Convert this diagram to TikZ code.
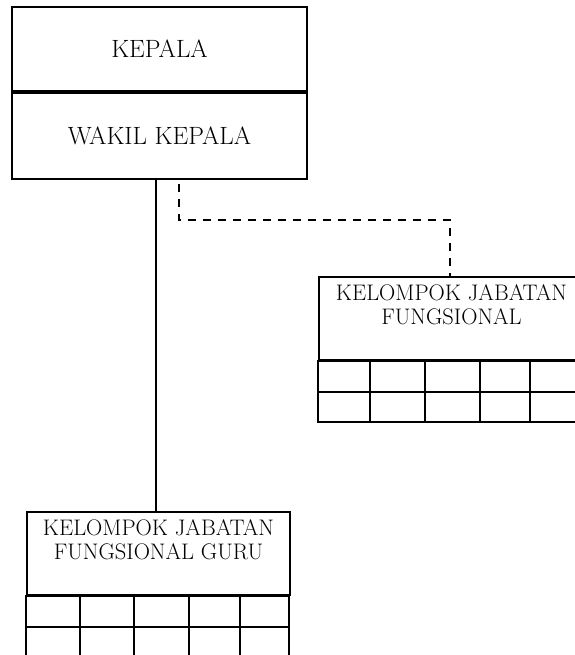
\documentclass[tikz,border=0pt]{standalone}
\usepackage{tikz}
\usetikzlibrary{positioning}

\begin{document}
\begin{tikzpicture}[x=1pt,y=-1pt,line width=2pt]
\tikzstyle{headbox}=[draw,rectangle,inner sep=0pt,minimum width=295pt,font=\fontsize{25}{27}\selectfont]
\tikzstyle{groupbox}=[draw,rectangle,inner sep=0pt,minimum height=83pt,anchor=north]
\tikzstyle{grouptext}=[align=center,anchor=north,inner sep=0pt,font=\fontsize{22.5}{23.5}\selectfont]
\useasboundingbox (0,0) rectangle (574,655);
% pimpinan
\node[headbox,minimum height=84pt] (kepala) at (159.5,49) {KEPALA};
\node[headbox,minimum height=86pt,below=0pt of kepala] (wakil) {WAKIL KEPALA};
% kelompok jabatan fungsional
\node[groupbox,minimum width=265pt] (fung) at (451.5,276) {};
\node[grouptext,below=8pt of fung.north] (fungtxt) {KELOMPOK JABATAN\\FUNGSIONAL};
\draw (fung.south west) rectangle ++(265,61);
\draw ([yshift=-31pt]fung.south west) -- ++(265,0);
\foreach \dx in {52,107,162,212}
  \draw ([xshift=\dx pt]fung.south west) -- ++(0,61);
% kelompok jabatan fungsional guru
\node[groupbox,minimum width=263pt] (guru) at (158.5,511) {};
\node[grouptext,below=8pt of guru.north] (gurutxt) {KELOMPOK JABATAN\\FUNGSIONAL GURU};
\draw (guru.south west) rectangle ++(263,62);
\draw ([yshift=-31pt]guru.south west) -- ++(263,0);
\foreach \dx in {54,108,163,214}
  \draw ([xshift=\dx pt]guru.south west) -- ++(0,62);
% garis
\draw ([xshift=-4pt]wakil.south) -- ([xshift=-3pt]guru.north);
\draw[dash pattern=on 8pt off 7pt] ([xshift=19pt,yshift=-4pt]wakil.south) -- ++(0,36) -| ([xshift=-2pt]fung.north);
\end{tikzpicture}
\end{document}
